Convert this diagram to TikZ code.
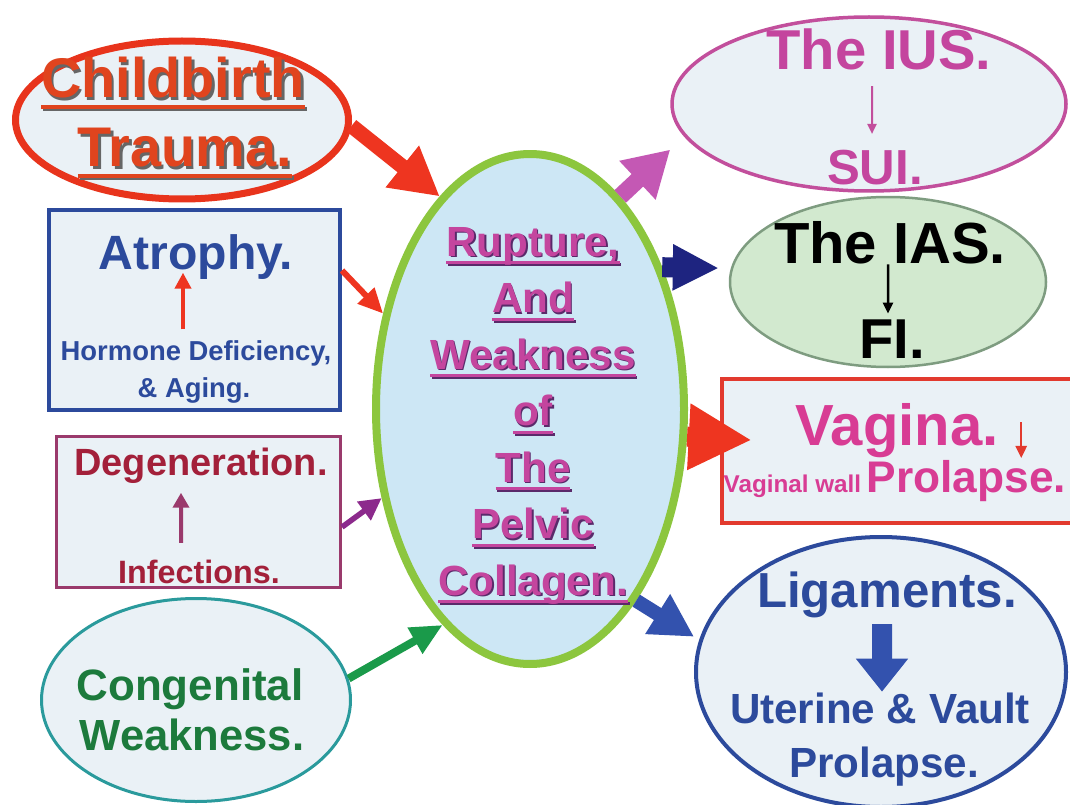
\documentclass[tikz,border=0pt]{standalone}
\usepackage{fontspec}
\setmainfont{Liberation Sans}
\usetikzlibrary{arrows.meta,shapes.geometric}

\definecolor{paleblue}{HTML}{EAF1F6}
\definecolor{trred}{HTML}{E8341C}
\definecolor{trtext}{HTML}{E0441E}
\definecolor{atblue}{HTML}{2C4A9C}
\definecolor{degred}{HTML}{A3203A}
\definecolor{degline}{HTML}{9A3A6C}
\definecolor{degarr}{HTML}{8C2A8C}
\definecolor{congreen}{HTML}{1C7A3C}
\definecolor{conline}{HTML}{2A9A9C}
\definecolor{congarr}{HTML}{1A9A4A}
\definecolor{colfill}{HTML}{CDE7F5}
\definecolor{colline}{HTML}{8CC63E}
\definecolor{colmag}{HTML}{C4459E}
\definecolor{colshadow}{HTML}{5A2A6A}
\definecolor{iusline}{HTML}{C24F9C}
\definecolor{iusarr}{HTML}{C458B4}
\definecolor{iasfill}{HTML}{D2E9CF}
\definecolor{iasline}{HTML}{7E9C80}
\definecolor{iasarr}{HTML}{1E2480}
\definecolor{vagred}{HTML}{E23A2E}
\definecolor{vagmag}{HTML}{D83C94}
\definecolor{arrred}{HTML}{EE3520}
\definecolor{ligblue}{HTML}{2C4A9C}
\definecolor{ligarr}{HTML}{3352AE}

\newcommand\fs[1]{\fontsize{#1}{#1}\selectfont}
\newcommand\ulin[1]{\setbox0\hbox{#1}\rlap{\rule[-.2em]{\wd0}{.07em}}\box0}
\newcommand\shd[2]{\rlap{\kern.04em\raisebox{-.04em}{\color{#1}#2}}#2}

\begin{document}
\begin{tikzpicture}[x=0.1mm, y=-0.1mm,
    every node/.style={font=\bfseries},
    txt/.style={inner sep=0pt, anchor=base},
    oval/.style={ellipse, draw, fill=paleblue, inner sep=0pt},
    boxed/.style={rectangle, draw, fill=paleblue, inner sep=0pt},
    harrow/.style 2 args={-{Triangle[length=#1, width=#2]}}]
\useasboundingbox (0,0) rectangle (1070,805);
\fill[white] (0,0) rectangle (1070,805);
\clip (0,0) rectangle (1070,805);

% outlines
\node[oval, draw=trred, line width=.7mm, minimum width=33.3mm, minimum height=15.8mm] (trauma) at (182,120) {};
\node[boxed, draw=atblue, line width=.4mm, minimum width=29.1mm, minimum height=20mm] (atrophy) at (194.5,310) {};
\node[boxed, draw=degline, line width=.3mm, minimum width=28.4mm, minimum height=15.1mm] (degen) at (198.5,512) {};
\node[oval, draw=conline, line width=.3mm, minimum width=30.9mm, minimum height=20.3mm] (cong) at (196,700) {};
\node[oval, draw=colline, fill=colfill, line width=.8mm, minimum width=30.8mm, minimum height=51mm] (collagen) at (530,409) {};
\node[oval, draw=iusline, line width=.35mm, minimum width=39.4mm, minimum height=17.4mm] (ius) at (869,104) {};
\node[oval, draw=iasline, fill=iasfill, line width=.25mm, minimum width=31.6mm, minimum height=17mm] (ias) at (888,282) {};
\node[boxed, draw=vagred, line width=.45mm, minimum width=35.6mm, minimum height=14.4mm] (vagina) at (900,451) {};
\node[oval, draw=ligblue, line width=.4mm, minimum width=37mm, minimum height=27mm] (lig) at (881,672) {};

% into the collagen
\draw[arrred, line width=1.5mm, harrow={4.8mm}{5mm}] (trauma.-2) -- (collagen.113);
\draw[arrred, line width=.6mm, harrow={2.5mm}{2.2mm}] (atrophy.15) -- (collagen.147);
\draw[degarr, line width=.55mm, harrow={2.2mm}{2.2mm}] (degen.-6) -- (collagen.211);
\draw[congarr, line width=.8mm, harrow={3.2mm}{2.8mm}] (cong.8) -- (collagen.248);
% out of the collagen
\draw[iusarr, line width=1.7mm, harrow={4.5mm}{5mm}, shorten >=1.9mm] (collagen.67) -- (ius.190);
\draw[iasarr, line width=2mm, harrow={4.6mm}{4.3mm}, shorten >=1.2mm] (collagen.47) -- (ias.175);
\draw[arrred, line width=2mm, harrow={6.3mm}{6.2mm}, shorten >=-3.2mm] (collagen.-10) -- (vagina.176);
\draw[ligarr, line width=1.4mm, harrow={4.3mm}{4.4mm}, shorten >=.6mm] (collagen.-61) -- (lig.170);

% texts
\node[txt, text=trtext] (cbT) at (173,98) {\fs{15.9pt}\shd{black!60}{\ulin{Childbirth}}};
\node[txt, text=trtext] (trT) at (185,167) {\fs{15.9pt}\shd{black!60}{\ulin{Trauma.}}};

\node[txt, text=atblue] (atrT) at (196,270) {\fs{13.7pt}Atrophy.};
\node[txt, text=atblue] (horm) at (196,360) {\fs{7.8pt}Hormone Deficiency,};
\node[txt, text=atblue] (aging) at (194,397) {\fs{7.8pt}\& Aging.};
\draw[arrred, line width=.4mm, harrow={1.6mm}{1.6mm}, shorten <=1mm, shorten >=-.8mm]
    ([xshift=-1.3mm]horm.north) -- ([xshift=-1.3mm]atrT.south);

\node[txt, text=degred] (degT) at (201,475) {\fs{10.8pt}Degeneration.};
\node[txt, text=degred] (infT) at (199,583) {\fs{9.2pt}Infections.};
\draw[degline, line width=.4mm, harrow={1.5mm}{1.6mm}, shorten <=1.6mm, shorten >=.9mm]
    ([xshift=-1.8mm]infT.north) -- ([xshift=-2mm]degT.south);

\node[txt, text=congreen] (congT) at (190,700) {\fs{12.5pt}Congenital};
\node[txt, text=congreen] (weakT) at (192,750) {\fs{12.4pt}Weakness.};

\foreach \w [count=\i from 0] in {{Rupture,},And,Weakness,of,The,Pelvic,Collagen.}
    \node[txt, text=colmag] (line\i) at (533,256+56.5*\i) {\fs{12pt}\shd{colshadow}{\ulin{\w}}};

\node[txt, text=colmag] (iusT) at (879,70) {\fs{16pt}The IUS.};
\node[txt, text=colmag] (suiT) at (875,185) {\fs{14pt}SUI.};
\draw[iusline, line width=.2mm, harrow={1mm}{.9mm}, shorten <=1.5mm, shorten >=1.6mm]
    ([xshift=-.7mm]iusT.south) -- ([xshift=-.3mm]suiT.north);

\node[txt, text=black] (iasT) at (890,263) {\fs{16.5pt}The IAS.};
\node[txt, text=black] (fiT) at (892,358) {\fs{16pt}FI.};
\draw[black, line width=.25mm, harrow={1.1mm}{1mm}, shorten >=.5mm]
    ([xshift=-.2mm]iasT.south) -- ([xshift=-.4mm]fiT.north);

\node[txt, text=vagmag] (vagT) at (897,445) {\fs{16.5pt}Vagina.};
\node[txt, text=vagmag, anchor=base west] (wallT) at (723,492) {\fs{6.9pt}Vaginal wall};
\node[txt, text=vagmag, anchor=base west] (prolT) at (866,492) {\fs{12.6pt}Prolapse.};
\draw[vagred, line width=.25mm, harrow={1.2mm}{1.1mm}]
    ([shift={(22,20)}]vagT.north east) -- ([shift={(22,0)}]vagT.south east);

\node[txt, text=ligblue] (ligT) at (887,607) {\fs{14pt}Ligaments.};
\node[txt, text=ligblue] (utT) at (880,723) {\fs{12pt}Uterine \& Vault};
\node[txt, text=ligblue] (prol2T) at (884,777) {\fs{12pt}Prolapse.};
\draw[ligarr, line width=2mm, harrow={3.3mm}{5mm}, shorten <=.6mm]
    ([xshift=-.5mm]ligT.south) -- ([xshift=.2mm]utT.north);
\end{tikzpicture}
\end{document}
